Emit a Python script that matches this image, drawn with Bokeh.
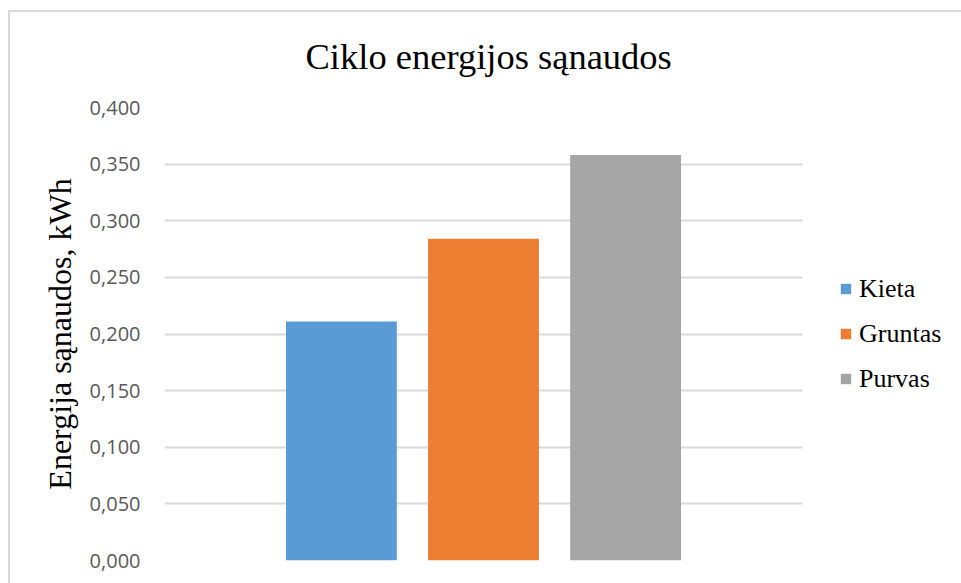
from bokeh.plotting import figure
from bokeh.models import FactorRange, Range1d, FixedTicker, Legend, LegendItem, ColumnDataSource
from bokeh.embed import file_html
from bokeh.resources import INLINE

# Energy used per cycle, by surface type (kWh)
series = ["Kieta", "Gruntas", "Purvas"]
energy_kwh = [0.211, 0.284, 0.358]
colors = ["#5b9bd5", "#ed7d31", "#a5a5a5"]

tick_values = [0.0, 0.05, 0.1, 0.15, 0.2, 0.25, 0.3, 0.35, 0.4]
tick_labels = ["0,000", "0,050", "0,100", "0,150", "0,200", "0,250", "0,300", "0,350", "0,400"]

SERIF = "Liberation Serif"
SANS = "Open Sans"
BORDER = "#d9d9d9"

x_range = FactorRange(factors=series, range_padding=0.4965, range_padding_units="percent")

p = figure(
    x_range=x_range,
    y_range=Range1d(0, 0.4),
    frame_width=638,
    frame_height=453,
    min_border_left=164,
    min_border_top=107,
    min_border_bottom=23,
    min_border_right=10,
    output_backend="svg",
    toolbar_location=None,
    title="Ciklo energijos sąnaudos",
)

# chart-area border: thin grey lines along the top and left edges
p.border_fill_alpha = 0
p.styles = {
    "background-color": "white",
    "background-image": f"linear-gradient({BORDER}, {BORDER}), linear-gradient({BORDER}, {BORDER})",
    "background-size": "100% 2px, 2px 100%",
    "background-position": "8px 10px, 8px 10px",
    "background-repeat": "no-repeat",
}

p.outline_line_color = None
p.background_fill_color = "white"

# title
p.title.align = "left"
p.title.offset = 141
p.title.vertical_align = "middle"
p.title.standoff = 59
p.title.text_font = SERIF
p.title.text_font_size = "36.5px"
p.title.text_font_style = "normal"
p.title.text_color = "#000000"

src = ColumnDataSource(dict(x=series, top=energy_kwh, color=colors))
bars = p.vbar(x="x", top="top", width=0.78, bottom=0, fill_color="color",
              line_color=None, source=src)

# axes
p.xaxis.visible = False
p.xgrid.visible = False

yax = p.yaxis[0]
yax.ticker = FixedTicker(ticks=tick_values)
yax.major_label_overrides = dict(zip(tick_values, tick_labels))
yax.axis_line_color = None
yax.major_tick_line_color = None
yax.minor_tick_line_color = None
yax.major_tick_out = 0
yax.major_label_standoff = 24
yax.major_label_text_font = SANS
yax.major_label_text_font_size = "20px"
yax.major_label_text_color = "#595959"
yax.axis_label = "Energija sąnaudos, kWh"
yax.axis_label_text_font = SERIF
yax.axis_label_text_font_size = "32px"
yax.axis_label_text_font_style = "normal"
yax.axis_label_text_color = "#000000"
yax.axis_label_standoff = 9

p.ygrid.ticker = FixedTicker(ticks=tick_values)
p.ygrid.grid_line_color = "#d9d9d9"
p.ygrid.grid_line_width = 2

# legend on the right
items = [LegendItem(label=s, renderers=[bars], index=i) for i, s in enumerate(series)]
legend = Legend(items=items, location="center_left")
legend.margin = 37
legend.padding = 8
legend.border_line_color = None
legend.background_fill_alpha = 0
legend.glyph_width = 13
legend.glyph_height = 13
legend.label_standoff = 7
legend.label_height = 30
legend.spacing = 15
legend.label_text_font = SERIF
legend.label_text_font_size = "26px"
legend.label_text_color = "#000000"
p.add_layout(legend, "right")

open("out.html", "w").write(file_html(p, INLINE))
